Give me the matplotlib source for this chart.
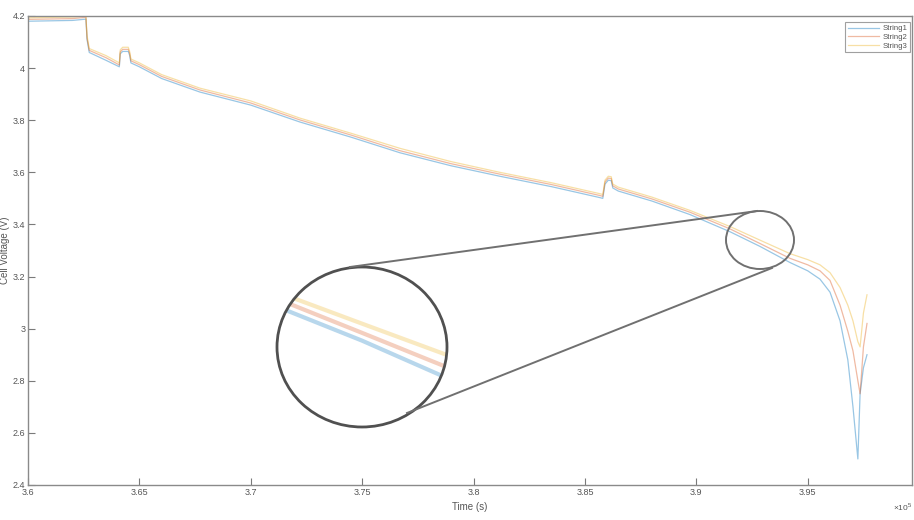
import matplotlib
matplotlib.use("Agg")
import matplotlib.pyplot as plt
from matplotlib.patches import Ellipse
from matplotlib.lines import Line2D
from matplotlib.ticker import FuncFormatter

plt.rcParams["font.family"] = ["Liberation Sans", "DejaVu Sans"]
plt.rcParams["mathtext.fontset"] = "custom"
plt.rcParams["mathtext.rm"] = "Liberation Sans"

# ---------------- data (time in units of 1e5 s, voltage in V) ----------------
time = [3.6000, 3.6200, 3.6260, 3.6265, 3.6275, 3.6350, 3.6410, 3.6414, 3.6425,
        3.6450, 3.6456, 3.6462, 3.6500, 3.6600, 3.6772, 3.7000, 3.7221, 3.7450,
        3.7670, 3.7900, 3.8118, 3.8350, 3.8567, 3.8580, 3.8590, 3.8605, 3.8618,
        3.8625, 3.8650, 3.8800, 3.8971, 3.9151, 3.9285, 3.9420, 3.9500, 3.9555,
        3.9600, 3.9645, 3.9680, 3.9703, 3.9725, 3.9735, 3.9750, 3.9766]

string1 = [4.180, 4.183, 4.188, 4.110, 4.060, 4.030, 4.005, 4.055, 4.064,
           4.064, 4.050, 4.020, 4.005, 3.960, 3.908, 3.858, 3.793, 3.735,
           3.675, 3.625, 3.585, 3.545, 3.503, 3.500, 3.555, 3.570, 3.568,
           3.540, 3.528, 3.490, 3.438, 3.372, 3.316, 3.254, 3.222, 3.190,
           3.140, 3.030, 2.880, 2.700, 2.500, 2.750, 2.850, 2.900]

string2 = [4.187, 4.190, 4.195, 4.115, 4.068, 4.040, 4.012, 4.062, 4.072,
           4.072, 4.058, 4.028, 4.013, 3.968, 3.916, 3.866, 3.801, 3.743,
           3.683, 3.633, 3.593, 3.553, 3.511, 3.508, 3.563, 3.578, 3.576,
           3.548, 3.536, 3.498, 3.447, 3.383, 3.327, 3.270, 3.245, 3.222,
           3.185, 3.090, 2.990, 2.915, 2.800, 2.750, 2.930, 3.020]

string3 = [4.193, 4.196, 4.200, 4.125, 4.075, 4.048, 4.020, 4.070, 4.080,
           4.080, 4.065, 4.035, 4.020, 3.975, 3.923, 3.874, 3.808, 3.750,
           3.692, 3.641, 3.600, 3.560, 3.518, 3.515, 3.570, 3.585, 3.583,
           3.555, 3.543, 3.505, 3.454, 3.392, 3.340, 3.288, 3.265, 3.245,
           3.215, 3.158, 3.090, 3.030, 2.950, 2.930, 3.060, 3.130]

series_names = ["String1", "String2", "String3"]
series_values = [string1, string2, string3]
series_colors = ["#0072BD", "#D95319", "#EDB120"]

x_ticks = [3.6, 3.65, 3.7, 3.75, 3.8, 3.85, 3.9, 3.95]
y_ticks = [2.4, 2.6, 2.8, 3.0, 3.2, 3.4, 3.6, 3.8, 4.0, 4.2]

# ---------------- figure ----------------
W, H = 914, 520
fig = plt.figure(figsize=(W / 100, H / 100), dpi=100)
fig.patch.set_facecolor("white")

def fx(px):
    return px / W

def fy(py):
    return 1 - py / H

ax = fig.add_axes([fx(28), fy(485), fx(912) - fx(28), fy(16) - fy(485)])
for name, vals, col in zip(series_names, series_values, series_colors):
    ax.plot(time, vals, color=col, lw=0.9, alpha=0.4, label=name)

ax.set_xlim(3.6, 3.9968)
ax.set_ylim(2.4, 4.2)
ax.set_xticks(x_ticks)
ax.set_yticks(y_ticks)
ax.xaxis.set_major_formatter(FuncFormatter(lambda v, p: f"{v:g}"))
ax.yaxis.set_major_formatter(FuncFormatter(lambda v, p: f"{v:g}"))
gray = "#7a7a7a"
for s in ax.spines.values():
    s.set_color("#8a8a8a")
    s.set_linewidth(1.0)
ax.tick_params(direction="in", length=5, width=0.8, color=gray,
               labelsize=6.5, labelcolor="#555555", pad=2)
ax.set_xlabel("Time (s)", fontsize=7, color="#555555", labelpad=4)
ax.set_ylabel("Cell Voltage (V)", fontsize=7, color="#555555", labelpad=2)

leg = ax.legend(loc="upper right", fontsize=5.6, handlelength=4.0,
                frameon=True, fancybox=False, borderpad=0.35,
                labelspacing=0.15, handletextpad=0.5, borderaxespad=0.2,
                bbox_to_anchor=(1.0, 0.99))
leg.get_frame().set_edgecolor("#888888")
leg.get_frame().set_linewidth(0.8)
for t in leg.get_texts():
    t.set_color("#555555")

fig.text(fx(912), fy(507), r"$\times10^5$", fontsize=6, color="#555555",
         ha="right", va="center")

# ---------------- zoom circle ----------------
small = Ellipse((fx(760), fy(240)), fx(68), 58 / H, transform=fig.transFigure,
                fill=False, edgecolor="#707070", lw=1.4, zorder=5)
fig.add_artist(small)

fig.add_artist(Line2D([fx(350), fx(757)], [fy(267), fy(211)],
                      transform=fig.transFigure, color="#707070", lw=1.4, zorder=5))
fig.add_artist(Line2D([fx(407), fx(772)], [fy(413), fy(268)],
                      transform=fig.transFigure, color="#707070", lw=1.4, zorder=5))

iax = fig.add_axes([fx(277), fy(427), fx(170), 160 / H])
iax.set_facecolor("none")
iax.set_axis_off()
clip = Ellipse((0.5, 0.5), 1, 1, transform=iax.transAxes)
bg = Ellipse((0.5, 0.5), 1, 1, transform=iax.transAxes, facecolor="white",
             edgecolor="none", zorder=0)
iax.add_patch(bg)
for vals, col in zip(series_values, series_colors):
    ln, = iax.plot(time, vals, color=col, lw=3.0, alpha=0.28, zorder=2)
    ln.set_clip_path(clip)
iax.set_xlim(3.917, 3.940)
iax.set_ylim(3.194, 3.420)
border = Ellipse((0.5, 0.5), 1, 1, transform=iax.transAxes, fill=False,
                 edgecolor="#505050", lw=2.0, zorder=5, clip_on=False)
iax.add_patch(border)

fig.savefig("out.png", dpi=100, facecolor="white")
